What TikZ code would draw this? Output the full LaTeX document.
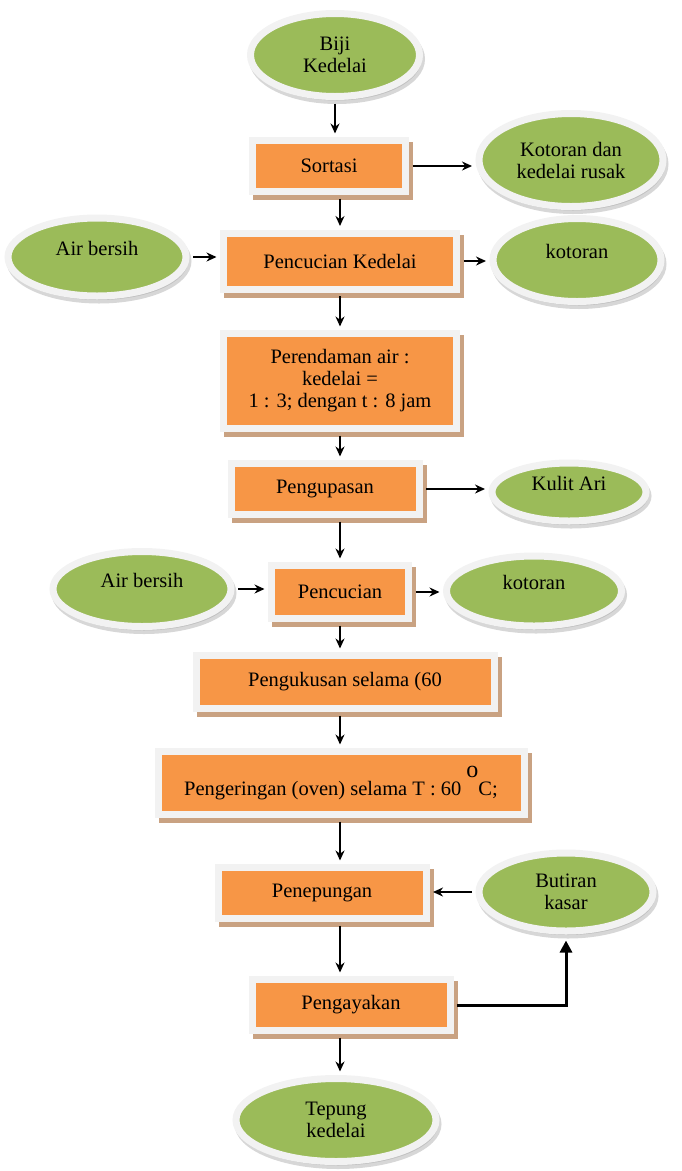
\documentclass[tikz,border=0pt]{standalone}
\usepackage{fontspec}
\setmainfont{Liberation Serif}
\usetikzlibrary{shapes.geometric,arrows.meta}

\definecolor{boxorange}{HTML}{F79646}
\definecolor{ovalgreen}{HTML}{9BBB59}
\definecolor{framegray}{HTML}{F2F2F2}
\definecolor{shadowtan}{HTML}{C9A282}

\newcommand{\liftup}[1]{\raisebox{9pt}[\height][\depth]{#1}}

\begin{document}
\begin{tikzpicture}[x=1pt, y=-1pt,
	every node/.style={font=\fontsize{20.5}{22}\selectfont, align=center, inner sep=0pt},
	proc/.style={rectangle, fill=boxorange, draw=framegray, line width=7pt,
		preaction={draw=shadowtan, fill=shadowtan, transform canvas={shift={(4pt,-5pt)}}}},
	oval/.style={ellipse, fill=ovalgreen, draw=framegray, line width=7pt,
		preaction={draw=black!35, fill=black!35, opacity=0.45, transform canvas={shift={(2pt,-4pt)}}}},
	flow/.style={-{Stealth[length=10pt,width=9pt]}, line width=1.5pt, shorten <=3.5pt, shorten >=3.5pt},
	bigflow/.style={-{Triangle[length=12pt,width=12pt]}, line width=3pt, shorten <=3.5pt, shorten >=6pt}]
				\useasboundingbox (0,0) rectangle (682,1171);
				\coordinate (axis) at (340,0);

				\node (biji) [oval, minimum width=169pt, minimum height=83pt] at (335,55) {Biji\\Kedelai};
				\node (sortasi) [proc, minimum width=153pt, minimum height=51pt] at (329,166) {Sortasi};
				\node (kotoranS) [oval, minimum width=184pt, minimum height=93pt] at (571,160) {Kotoran dan\\kedelai rusak};
				\node (airA) [oval, minimum width=178pt, minimum height=78pt] at (97,257) {\liftup{Air bersih}};
				\node (pencucianA) [proc, minimum width=233pt, minimum height=56pt] at (340,261) {Pencucian Kedelai};
				\node (kotoranA) [oval, minimum width=168pt, minimum height=83pt] at (577,260) {\liftup{kotoran}};
				\node (perendaman) [proc, minimum width=233pt, minimum height=95pt] at (340,381) {Perendaman air :\\kedelai =\\1 : 3; dengan t : 8 jam};
				\node (pengupasan) [proc, minimum width=188pt, minimum height=51pt] at (325,489) {Pengupasan};
				\node (kulit) [oval, minimum width=154pt, minimum height=58pt] at (569,492) {\liftup{Kulit Ari}};
				\node (airB) [oval, minimum width=178pt, minimum height=75pt] at (142,589) {\liftup{Air bersih}};
				\node (pencucianB) [proc, minimum width=137pt, minimum height=53pt] at (340,592) {Pencucian};
				\node (kotoranB) [oval, minimum width=175pt, minimum height=70pt] at (534,591) {\liftup{kotoran}};
				\node (pengukusan) [proc, minimum width=298pt, minimum height=53pt] at (345,682) {Pengukusan selama (60};
				\node (pengeringan) [proc, minimum width=366pt, minimum height=63pt] at (341,783) {Pengeringan (oven) selama T : 60 \raisebox{0.85em}{\fontsize{24}{24}\selectfont o}C;};
				\node (penepungan) [proc, minimum width=208pt, minimum height=51pt] at (322,893) {Penepungan};
				\node (butiran) [oval, minimum width=174pt, minimum height=78pt] at (566,892) {Butiran\\kasar};
				\node (pengayakan) [proc, minimum width=198pt, minimum height=51pt] at (351,1005) {Pengayakan};
				\node (tepung) [oval, minimum width=200pt, minimum height=83pt] at (336,1120) {Tepung\\kedelai};

				% Arrows
				\draw[flow] (biji.south) -- (biji.south |- sortasi.north);
				\draw[flow] (sortasi.south -| axis) -- (pencucianA.north -| axis);
				\draw[flow] (pencucianA.south -| axis) -- (perendaman.north -| axis);
				\draw[flow] (perendaman.south -| axis) -- (pengupasan.north -| axis);
				\draw[flow] (pengupasan.south -| axis) -- (pencucianB.north -| axis);
				\draw[flow] (pencucianB.south -| axis) -- (pengukusan.north -| axis);
				\draw[flow] (pengukusan.south -| axis) -- (pengeringan.north -| axis);
				\draw[flow] (pengeringan.south -| axis) -- (penepungan.north -| axis);
				\draw[flow] (penepungan.south -| axis) -- (pengayakan.north -| axis);
				\draw[flow] (pengayakan.south -| axis) -- (tepung.north -| axis);
				\draw[flow] (sortasi.east) -- (sortasi.east -| kotoranS.west);
				\draw[flow] (airA.east) -- (airA.east -| pencucianA.west);
				\draw[flow] (pencucianA.east) -- (pencucianA.east -| kotoranA.west);
				\draw[flow] (pengupasan.east) -- (pengupasan.east -| kulit.west);
				\draw[flow] (airB.east) -- (airB.east -| pencucianB.west);
				\draw[flow] (pencucianB.east) -- (pencucianB.east -| kotoranB.west);
				\draw[flow] (butiran.west) -- (butiran.west -| penepungan.east);
				\draw[bigflow] (pengayakan.east) -| (butiran.south);
			\end{tikzpicture}
\end{document}
